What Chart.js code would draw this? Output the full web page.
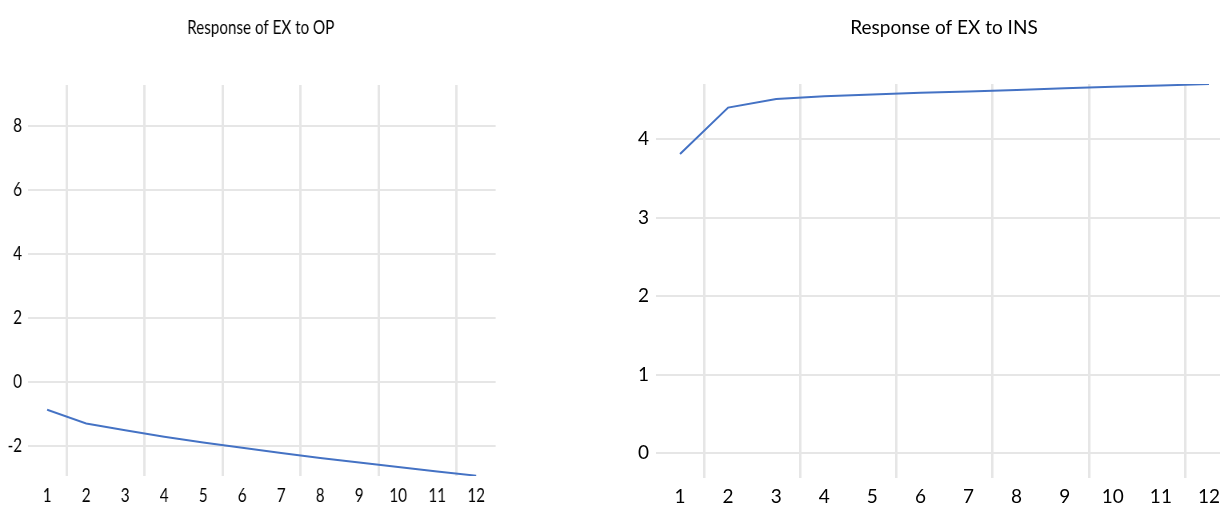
<!DOCTYPE html>
<html>
<head>
<meta charset="utf-8">
<script src="https://cdn.jsdelivr.net/npm/chart.js@4/dist/chart.umd.min.js"></script>
<style>
    html, body { margin: 0; padding: 0; background: #fff; overflow: hidden; width: 1220px; height: 506px; }
    .wrap { position: absolute; top: 0; height: 506px; }
    #leftWrap { left: 0; width: 652px; transform: scaleX(0.8); transform-origin: 0 0; }
    #rightWrap { left: 600px; width: 688px; }
</style>
</head>
<body>

<div class="wrap" id="leftWrap"><canvas id="chartOP" width="652" height="506"></canvas></div>
<div class="wrap" id="rightWrap"><canvas id="chartINS" width="688" height="506"></canvas></div>

<script>
// periods on the x axis
let periods = ['1', '2', '3', '4', '5', '6', '7', '8', '9', '10', '11', '12'];

// Response of EX to OP
let responseOP = [-0.88, -1.31, -1.52, -1.72, -1.90, -2.07, -2.23, -2.39, -2.53, -2.67, -2.81, -2.94];
let ticksOP = [-2, 0, 2, 4, 6, 8];

// Response of EX to INS
let responseINS = [3.81, 4.40, 4.51, 4.545, 4.565, 4.59, 4.605, 4.625, 4.645, 4.665, 4.68, 4.70];
let ticksINS = [0, 1, 2, 3, 4];

const FONT = 'Lato';
const GRID = '#e6e6e6';
const LINE = '#4472C4';


function makeChart(id, title, values, yTicks, s) {
    let config = {
        type: 'line',
        data: {
            labels: periods,
            datasets: [{
                data: values,
                borderColor: LINE,
                backgroundColor: LINE,
                borderWidth: 2,
                pointRadius: 0,
                tension: 0
            }]
        },
        options: {
            responsive: false,
            animation: false,
            layout: { padding: 0 },
            plugins: {
                legend: { display: false },
                tooltip: { enabled: false },
                title: {
                    display: true,
                    text: title,
                    color: '#000',
                    font: { family: FONT, size: 19, weight: 'normal' },
                    padding: { top: 16, bottom: s.titleBottom }
                }
            },
            scales: {
                x: {
                    offset: true,
                    border: { display: false },
                    grid: {
                        offset: true,
                        drawTicks: false,
                        lineWidth: s.vLine,
                        color: (ctx) => ctx.index % 2 === 1 ? GRID : 'rgba(0,0,0,0)'
                    },
                    ticks: {
                        color: '#000',
                        font: { family: FONT, size: 19 },
                        padding: 8,
                        autoSkip: false,
                        maxRotation: 0
                    },
                    afterFit: (scale) => { scale.height = s.xHeight; }
                },
                y: {
                    min: s.min,
                    max: s.max,
                    border: { display: false },
                    grid: { drawTicks: false, lineWidth: 2, color: GRID },
                    ticks: {
                        color: '#000',
                        font: { family: FONT, size: 19 },
                        padding: 7
                    },
                    afterBuildTicks: (scale) => { scale.ticks = yTicks.map(v => ({ value: v })); },
                    afterFit: (scale) => { scale.width = s.yWidth; }
                },
                // empty space on the right so the title stays centred over the plot
                spacer: {
                    type: 'linear',
                    position: 'right',
                    display: true,
                    border: { display: false },
                    grid: { display: false },
                    ticks: { display: false },
                    afterFit: (scale) => { scale.width = s.rightWidth; }
                }
            }
        }
    };
    return new Chart(document.getElementById(id), config);
}


makeChart('chartOP', 'Response of EX to OP', responseOP, ticksOP, {
    yWidth: 34.6, rightWidth: 32.4, xHeight: 30, titleBottom: 46.2,
    vLine: 3, min: -2.95, max: 9.27
});

makeChart('chartINS', 'Response of EX to INS', responseINS, ticksINS, {
    yWidth: 56, rightWidth: 55, xHeight: 28.3, titleBottom: 45.2,
    vLine: 2.5, min: -0.31, max: 4.70
});
</script>
</body>
</html>
